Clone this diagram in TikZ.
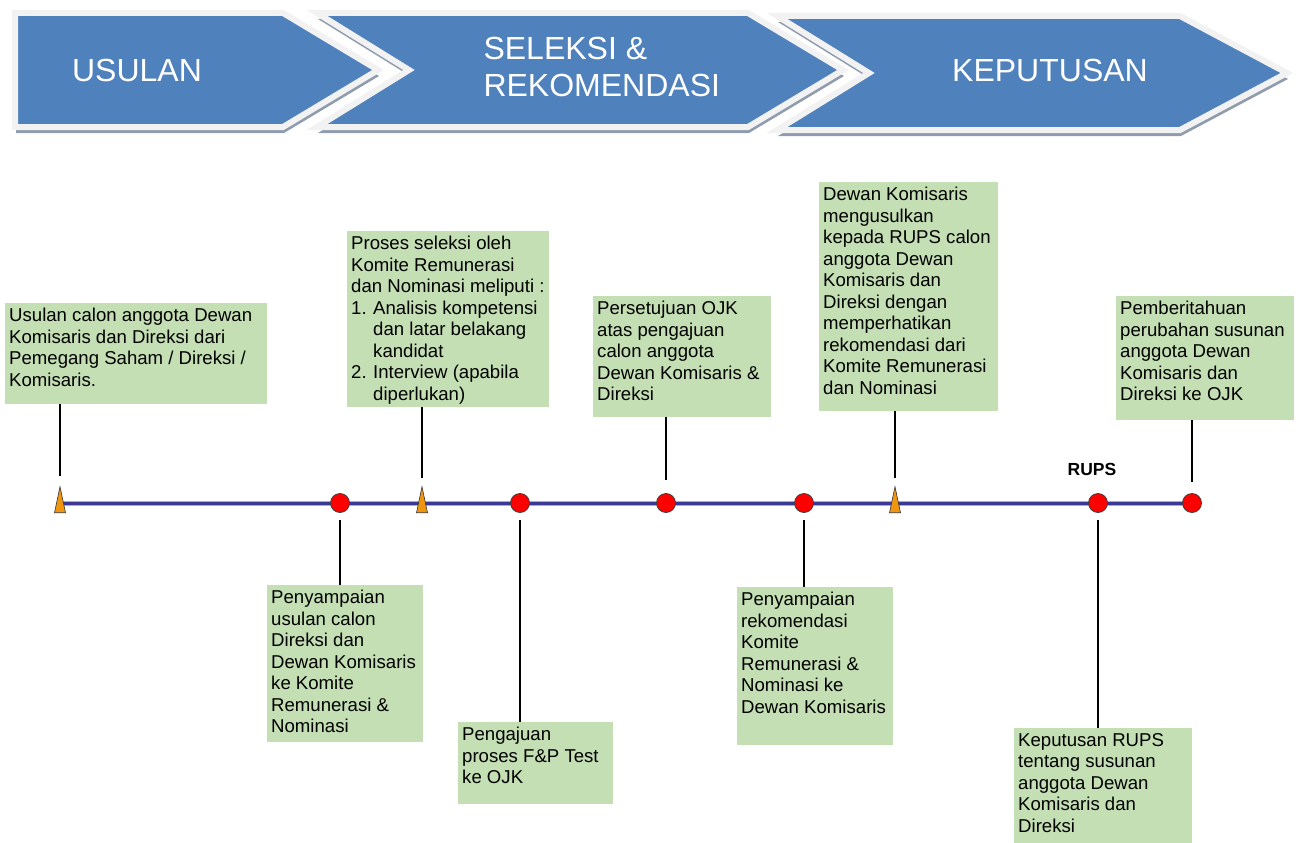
\documentclass[tikz,border=0pt]{standalone}
\usepackage{fontspec}
\setmainfont{Liberation Sans}
\usetikzlibrary{shapes.geometric}

\definecolor{chevblue}{HTML}{4F81BD}
\definecolor{chevedge}{HTML}{F2F2F2}
\definecolor{chevshade}{HTML}{8E9CAE}
\definecolor{boxgreen}{HTML}{C4DFB3}
\definecolor{linenavy}{HTML}{3A3A96}
\definecolor{linehalo}{HTML}{A9A9D6}
\definecolor{tickorange}{HTML}{F0960E}

% text of a green box, kept at the top
\newcommand{\gtxt}[3]{\parbox[t][#2pt][t]{#1pt}{\raggedright #3}}

\begin{document}
\begin{tikzpicture}[x=1pt,y=-1pt,
  chev/.style={fill=chevblue,draw=chevedge,line width=6pt,line join=miter},
  chevshadow/.style={fill=chevshade},
  chevlabel/.style={text=white,font=\fontsize{32}{37}\selectfont,align=left},
  gbox/.style={fill=boxgreen,anchor=north west,inner xsep=4pt,inner ysep=5pt,
    font=\fontsize{18.6}{21.5}\selectfont},
  dot/.style={circle,fill=red,draw=black!75,line width=0.8pt,minimum size=19pt,inner sep=0pt},
  tick/.style={isosceles triangle,isosceles triangle stretches,shape border rotate=90,
    fill=tickorange,draw=black!80,line width=0.6pt,inner sep=0pt,
    minimum height=26pt,minimum width=11pt,anchor=south},
  stem/.style={line width=1.8pt,black}]
\useasboundingbox (0,0) rectangle (1304,843);

% chevrons on top
\foreach \p in {
  {(15,13)--(283,13)--(378,70)--(283,127)--(15,127)--cycle},
  {(317,13)--(748,13)--(843,70)--(748,127)--(317,127)--(409,70)--cycle},
  {(777,16)--(1180,16)--(1287,73)--(1180,130)--(777,130)--(869,73)--cycle}
}{ \fill[chevshadow,shift={(1,6)}] \p; \draw[chev] \p; }
\node[chevlabel] (usul) at (137,70) {USULAN};
\node[chevlabel,anchor=west] (sel) at (480,67) {SELEKSI \&\\REKOMENDASI};
\node[chevlabel] (kep) at (1050,70) {KEPUTUSAN};

% boxes
\node[gbox] (b1) at (5,303) {\gtxt{254}{91}{Usulan calon anggota Dewan\\ Komisaris dan Direksi dari\\ Pemegang Saham / Direksi /\\ Komisaris.}};
\node[gbox] (b2) at (267,585) {\gtxt{148}{147}{Penyampaian\\ usulan calon\\ Direksi dan\\ Dewan Komisaris\\ ke Komite\\ Remunerasi \&\\ Nominasi}};
\node[gbox] (b3) at (347,231) {\gtxt{194}{166}{Proses seleksi oleh\\ Komite Remunerasi\\ dan Nominasi meliputi :\\ \makebox[22pt][l]{1.}Analisis kompetensi\\ \hspace*{22pt}dan latar belakang\\ \hspace*{22pt}kandidat\\ \makebox[22pt][l]{2.}Interview (apabila\\ \hspace*{22pt}diperlukan)}};
\node[gbox] (b4) at (458,722) {\gtxt{147}{72}{Pengajuan\\ proses F\&P Test\\ ke OJK}};
\node[gbox] (b5) at (593,296) {\gtxt{170}{111}{Persetujuan OJK\\ atas pengajuan\\ calon anggota\\ Dewan Komisaris \&\\ Direksi}};
\node[gbox] (b6) at (737,587) {\gtxt{148}{148}{Penyampaian\\ rekomendasi\\ Komite\\ Remunerasi \&\\ Nominasi ke\\ Dewan Komisaris}};
\node[gbox] (b7) at (819,182) {\gtxt{171}{219}{Dewan Komisaris\\ mengusulkan\\ kepada RUPS calon\\ anggota Dewan\\ Komisaris dan\\ Direksi dengan\\ memperhatikan\\ rekomendasi dari\\ Komite Remunerasi\\ dan Nominasi}};
\node[gbox] (b8) at (1116,296) {\gtxt{170}{114}{Pemberitahuan\\ perubahan susunan\\ anggota Dewan\\ Komisaris dan\\ Direksi ke OJK}};
\node[gbox] (b9) at (1014,728) {\gtxt{170}{105}{Keputusan RUPS\\ tentang susunan\\ anggota Dewan\\ Komisaris dan\\ Direksi}};

% timeline
\coordinate (tlstart) at (60,503);
\coordinate (tlend) at (1192,503);
\draw[linehalo,line width=5pt] (tlstart) -- (tlend);
\draw[linenavy,line width=3pt] (tlstart) -- (tlend);
\foreach \nm/\x in {m2/340,m4/520,m5/666,m6/804,m8/1098,m9/1192}
  \node[dot] (\nm) at (\x,503) {};
\foreach \nm/\x in {m1/60,m3/422,m7/895}
  \node[tick] (\nm) at (\x,513) {};
\node[font=\fontsize{17.5}{20}\selectfont\bfseries] (rups) at (1092,469) {RUPS};

% connectors
\draw[stem,shorten >=10pt] (m1 |- b1.south) -- (m1.north);
\draw[stem,shorten >=8pt] (m3 |- b3.south) -- (m3.north);
\draw[stem,shorten >=13pt] (m5 |- b5.south) -- (m5.north);
\draw[stem,shorten >=8pt] (m7 |- b7.south) -- (m7.north);
\draw[stem,shorten >=11pt] (m9 |- b8.south) -- (m9.north);
\draw[stem,shorten <=7pt] (m2.south) -- (m2 |- b2.north);
\draw[stem,shorten <=7pt] (m4.south) -- (m4 |- b4.north);
\draw[stem,shorten <=7pt] (m6.south) -- (m6 |- b6.north);
\draw[stem,shorten <=7pt] (m8.south) -- (m8 |- b9.north);
\end{tikzpicture}
\end{document}
